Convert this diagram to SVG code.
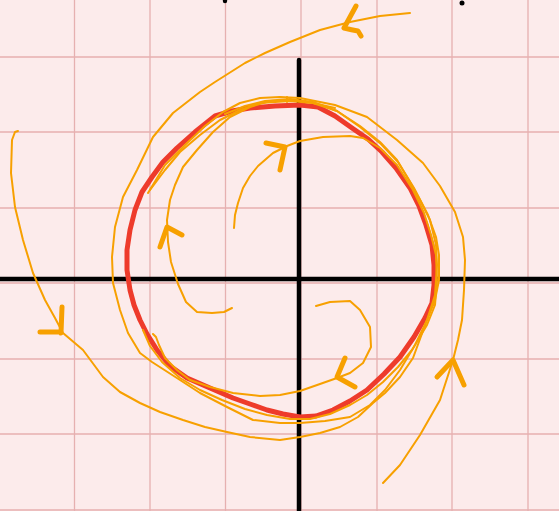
<svg xmlns="http://www.w3.org/2000/svg" width="559" height="511" viewBox="0 0 559 511">
<style>
.grid{stroke:#e6b0b0;stroke-width:1.3;fill:none}
.axis{stroke:#000;stroke-width:4.5;fill:none;stroke-linecap:round}
.cycle{stroke:#ee3b2b;stroke-width:5;fill:none;stroke-linejoin:round}
.traj{stroke:#f7a000;stroke-width:2;fill:none;stroke-linejoin:round;stroke-linecap:round}
.head{stroke:#f7a000;stroke-width:5;fill:none;stroke-linejoin:round;stroke-linecap:round}
</style>
<rect x="0" y="0" width="559" height="511" fill="#fcebeb"/>
<g id="grid">
<path class="grid" d="M74.5,0V511M150,0V511M225.5,0V511M301,0V511M377,0V511M452,0V511M528,0V511M0,57H559M0,132H559M0,208H559M0,283H559M0,359H559M0,434H559M0,510H559"/>
</g>
<g id="axes">
<path class="axis" d="M299,60V511"/>
<path class="axis" d="M0,279H559"/>
<circle cx="225" cy="1" r="2.2" fill="#000"/>
<circle cx="462" cy="3" r="2.5" fill="#000"/>
</g>
<g id="limit-cycle">
<path class="cycle" d="M300,105 L318,107 L335,116 L352,128 L368,139 L382,152 L396,168 L410,188 L419,206 L426,225 L432,245 L434,265 L434,285 L432,303 L425,318 L414,337 L400,357 L384,374 L367,390 L350,401 L333,410 L316,416 L300,417 L283,414 L267,410 L250,404 L233,398 L210,388 L187,378 L170,366 L157,350 L147,334 L140,320 L134,305 L130,290 L127,270 L127,250 L130,230 L135,210 L142,192 L152,177 L163,162 L177,148 L195,132 L215,116 L232,111 L250,108 L275,106 Z"/>
</g>
<g id="connectors">
<path id="trajA" class="traj" d="M410,13 L380,16 L350,22 L320,30 L290,42 L265,53 L245,63 L215,82 L200,92 L173,113 L153,137 L137,170 L123,197 L115,227 L112,257 L113,283 L120,310 L128,333 L140,353 L152,362 L180,380 L200,393 L227,407 L253,420 L280,423 L300,423 L325,421 L350,417 L370,405 L385,390 L400,370 L415,345 L428,318 L435,300 L439,280 L439,255 L436,237 L428,215 L414,188 L398,162 L381,144 L360,127 L337,111 L313,102 L290,99 L265,101 L245,106 L225,114"/>
<path id="trajB" class="traj" d="M383,483 L400,465 L420,435 L440,400 L453,360 L458,340 L462,320 L464,290 L465,260 L463,237 L455,212 L440,186 L423,163 L397,140 L367,117 L335,105 L300,98 L280,97 L260,98 L240,103 L223,112 L205,126 L185,145 L165,165 L148,193"/>
<path id="trajC" class="traj" d="M18,131 L15,132 L12,140 L11,173 L15,207 L23,240 L33,273 L45,300 L55,318 L63,333 L83,350 L103,377 L120,392 L140,403 L160,412 L183,420 L205,427 L227,432 L250,437 L280,440 L300,437 L320,433 L340,427 L358,417 L373,403 L385,393 L400,377 L413,358 L427,320 L435,295 L437,265 L436,245 L430,220 L420,200 L410,182 L397,160 L380,142 L360,126 L337,111 L313,103 L290,101 L260,103 L240,110 L220,120 L200,135 L180,152 L165,170 L150,190"/>
<path id="trajD" class="traj" d="M234,228 L235,215 L238,203 L243,188 L250,176 L258,166 L273,153 L287,146 L300,141 L323,137 L350,136 L363,138 L380,148 L397,165 L413,190 L424,213 L431,235 L436,255 L437,280 L435,305 L427,325 L412,350 L398,367 L383,382 L367,395 L350,405 L330,414 L310,419 L290,419 L267,415 L245,409 L222,400 L200,390 L180,378 L162,362 L150,346 L143,330"/>
<path id="trajE" class="traj" d="M316,306 L330,302 L350,301 L360,310 L370,327 L371,347 L363,363 L350,373 L337,378 L320,384 L300,391 L280,395 L260,396 L233,393 L210,387 L190,380 L177,370 L165,358 L159,345 L156,337 L153,334"/>
<path id="trajF" class="traj" d="M232,308 L224,312 L212,313 L197,312 L186,302 L178,284 L171,262 L168,242 L167,220 L170,200 L175,185 L183,167 L197,150 L213,132 L230,117 L250,107 L270,101 L290,100 L313,103 L335,108"/>
<path class="traj" d="M287,97 L287,102"/>
<path class="head" d="M356,6 L344,28 Q352,30 358,31 L361,36"/>
<path class="head" d="M40,332 L60,332 M62,307 L61,333"/>
<path class="head" d="M266,143 L285,147 L280,170"/>
<path class="head" d="M160,247 L167,227 L182,235"/>
<path class="head" d="M345,358 L337,377 L355,387"/>
<path class="head" d="M437,377 L453,360 L464,385"/>
</g>
</svg>
